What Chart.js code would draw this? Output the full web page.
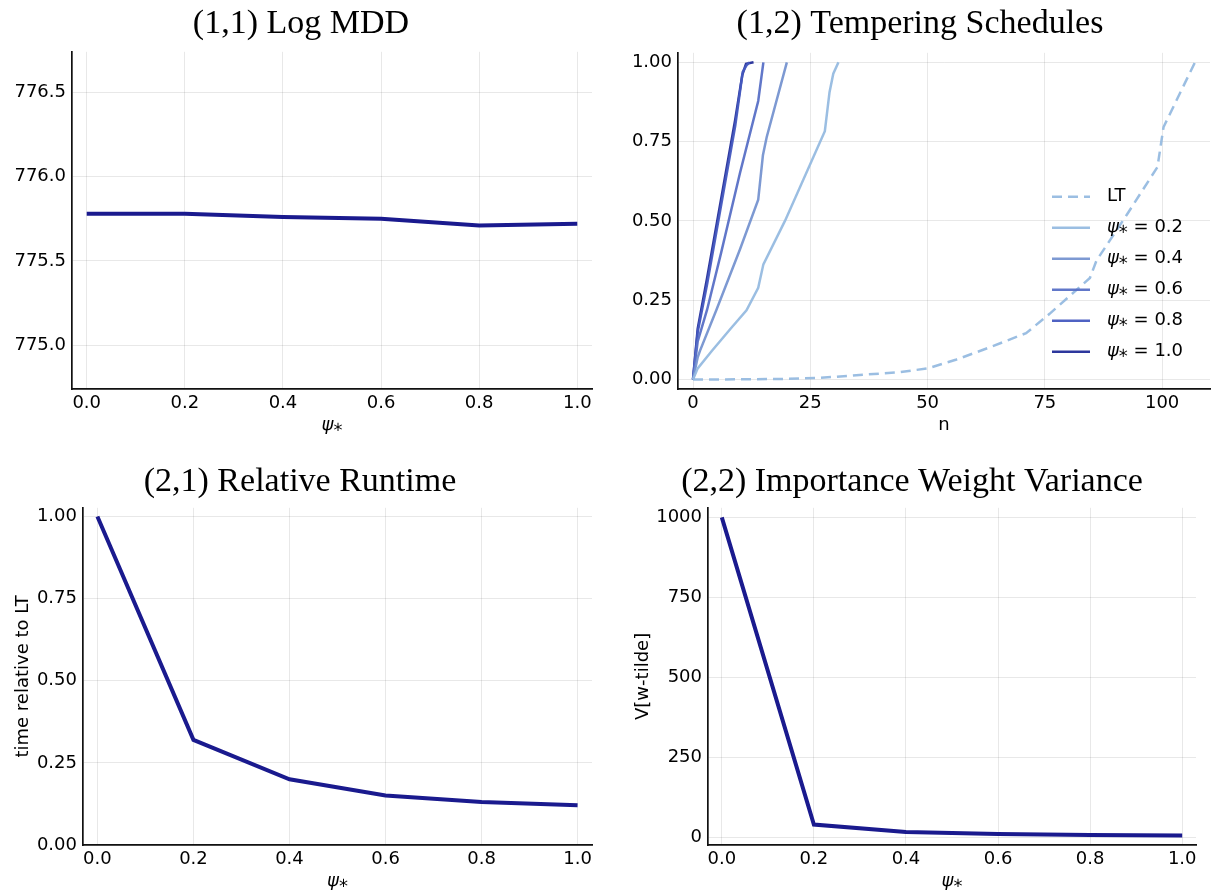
<!DOCTYPE html>
<html>
<head>
<meta charset="utf-8">
<script src="https://cdn.jsdelivr.net/npm/chart.js@4.4.0/dist/chart.umd.min.js"></script>
<style>
  body { margin: 0; background: #fff; width: 1216px; height: 895px; position: relative; overflow: hidden; }
  canvas { position: absolute; }
</style>
</head>
<body>
<canvas id="c11" width="598" height="439" style="left:10px;top:0px"></canvas>
<canvas id="c12" width="586" height="439" style="left:630px;top:0px"></canvas>
<canvas id="c21" width="600" height="448" style="left:8px;top:447px"></canvas>
<canvas id="c22" width="588" height="448" style="left:628px;top:447px"></canvas>
<script>
// values
var psi = [0.0, 0.2, 0.4, 0.6, 0.8, 1.0];
var logMdd = [775.78, 775.78, 775.76, 775.75, 775.71, 775.72];
var runtime = [1.0, 0.32, 0.20, 0.151, 0.131, 0.121];
var wVariance = [1000, 40, 17, 10, 7, 6];

// tempering schedules (n, phi_n)
var ltN    = [0, 10, 20, 27, 33.5, 44, 50, 56, 63, 71, 76, 84.6, 86, 92.5, 99, 100.3, 107];
var ltPhi  = [0, 0.0005, 0.002, 0.005, 0.012, 0.023, 0.035, 0.062, 0.1, 0.146, 0.207, 0.32, 0.375, 0.52, 0.67, 0.796, 1.0];
var s02N   = [0, 1, 4, 8, 11.4, 13.9, 15, 19.6, 28.1, 29.1, 29.9, 31];
var s02Phi = [0, 0.035, 0.09, 0.16, 0.218, 0.289, 0.363, 0.5, 0.783, 0.906, 0.964, 1.0];
var s04N   = [0, 1, 1.5, 5, 10, 13.9, 14.9, 15.7, 20];
var s04Phi = [0, 0.07, 0.091, 0.22, 0.41, 0.567, 0.707, 0.764, 1.0];
var s06N   = [0, 1, 3, 6, 10, 13.9, 15];
var s06Phi = [0, 0.12, 0.22, 0.4, 0.65, 0.878, 1.0];
var s08N   = [0, 1, 3, 6, 9, 10.6, 11.4, 12];
var s08Phi = [0, 0.15, 0.3, 0.55, 0.8, 0.97, 0.99, 1.0];
var s10N   = [0, 1, 3, 6, 9, 10.5, 11.3, 12.9];
var s10Phi = [0, 0.16, 0.32, 0.57, 0.82, 0.96, 0.995, 1.0];

var schedLabels = ['LT', 'ψ⁎ = 0.2', 'ψ⁎ = 0.4', 'ψ⁎ = 0.6', 'ψ⁎ = 0.8', 'ψ⁎ = 1.0'];

// tick labels
var psiTicks = [0, 0.2, 0.4, 0.6, 0.8, 1.0];
var mddTicks = [775.0, 775.5, 776.0, 776.5];
var nTicks = [0, 25, 50, 75, 100];
var phiTicks = [0, 0.25, 0.5, 0.75, 1.0];
var runtimeTicks = [0, 0.25, 0.5, 0.75, 1.0];
var varTicks = [0, 250, 500, 750, 1000];

var navy = '#1a1a8e';
var gridColor = 'rgba(0,0,0,0.09)';
var tickFont = { family: 'DejaVu Sans', size: 18 };

function pts(xs, ys) {
  return xs.map(function(x, i) { return { x: x, y: ys[i] }; });
}

function fixTicks(values) {
  return function(scale) {
    scale.ticks = values.map(function(v) { return { value: v }; });
  };
}

function xAxis(min, max, ticks, digits, title, italic) {
  return {
    type: 'linear', min: min, max: max,
    afterBuildTicks: fixTicks(ticks),
    afterFit: function(s) { s.height = 50; },
    grid: { color: gridColor, drawTicks: false, lineWidth: 1 },
    border: { color: '#111', width: 1.7 },
    ticks: { font: tickFont, color: '#000', padding: 4, maxRotation: 0, autoSkip: false,
      callback: function(v) { return v.toFixed(digits); } },
    title: { display: true, text: title, color: '#000',
      font: { family: 'DejaVu Sans', size: 18, style: italic ? 'italic' : 'normal' },
      padding: { top: 0, bottom: 3 } }
  };
}

function yAxis(min, max, ticks, digits, width, title) {
  return {
    type: 'linear', min: min, max: max,
    afterBuildTicks: fixTicks(ticks),
    afterFit: function(s) { s.width = width; },
    grid: { color: gridColor, drawTicks: false, lineWidth: 1 },
    border: { color: '#111', width: 1.7 },
    ticks: { font: tickFont, color: '#000', padding: 6, autoSkip: false,
      callback: function(v) { return v.toFixed(digits); } },
    title: { display: !!title, text: title || '', color: '#000',
      font: { family: 'DejaVu Sans', size: 18 },
      padding: { top: 5, bottom: 0 } }
  };
}

function titleOpt(text, padTop, padBottom) {
  return {
    display: true, text: text, color: '#000',
    font: { family: 'Liberation Serif', size: 34, weight: 'normal', lineHeight: 1.2 },
    padding: { top: padTop, bottom: padBottom }
  };
}

// legend drawn inside the plot area, like the original
var insideLegend = {
  id: 'insideLegend',
  afterDatasetsDraw: function(chart) {
    var ctx = chart.ctx, a = chart.chartArea;
    var x0 = a.right - 158, y0 = a.top + 144;
    chart.data.datasets.forEach(function(ds, i) {
      var y = y0 + i * 31;
      ctx.save();
      ctx.strokeStyle = ds.borderColor;
      ctx.lineWidth = ds.borderWidth;
      ctx.setLineDash(ds.borderDash || []);
      ctx.beginPath();
      ctx.moveTo(x0, y);
      ctx.lineTo(x0 + 38, y);
      ctx.stroke();
      ctx.setLineDash([]);
      ctx.fillStyle = '#000';
      ctx.textBaseline = 'middle';
      var tx = x0 + 55;
      var label = ds.label;
      if (label.charAt(0) === 'ψ') {
        ctx.font = 'italic 18px DejaVu Sans';
        ctx.fillText(label.slice(0, 2), tx, y);
        tx += ctx.measureText(label.slice(0, 2)).width;
        ctx.font = '18px DejaVu Sans';
        ctx.fillText(label.slice(2), tx, y);
      } else {
        ctx.font = '18px DejaVu Sans';
        ctx.fillText(label, tx, y);
      }
      ctx.restore();
    });
  }
};

function lineDs(label, data, color, width, dash) {
  return { label: label, data: data, borderColor: color, borderWidth: width,
    borderDash: dash || [], pointRadius: 0, tension: 0, fill: false };
}

function baseOptions(title, x, y, padRight) {
  return {
    responsive: false, animation: false, devicePixelRatio: 1,
    layout: { padding: { left: 0, right: padRight, top: 0, bottom: 0 } },
    plugins: { legend: { display: false }, tooltip: { enabled: false }, title: title },
    scales: { x: x, y: y }
  };
}

// (1,1) Log MDD
new Chart(document.getElementById('c11'), {
  type: 'line',
  data: { datasets: [lineDs('Log MDD', pts(psi, logMdd), navy, 4)] },
  options: baseOptions(titleOpt('(1,1) Log MDD', 4, 7),
    xAxis(-0.03, 1.03, psiTicks, 1, 'ψ⁎', true),
    yAxis(774.74, 776.74, mddTicks, 1, 62), 16)
});

// (1,2) Tempering Schedules
new Chart(document.getElementById('c12'), {
  type: 'line',
  data: { datasets: [
    lineDs(schedLabels[0], pts(ltN, ltPhi), 'rgba(150,186,224,0.95)', 2.5, [10, 6]),
    lineDs(schedLabels[1], pts(s02N, s02Phi), 'rgba(150,186,224,0.95)', 2.5),
    lineDs(schedLabels[2], pts(s04N, s04Phi), 'rgba(118,148,208,0.95)', 2.5),
    lineDs(schedLabels[3], pts(s06N, s06Phi), 'rgba(88,112,198,0.95)', 2.5),
    lineDs(schedLabels[4], pts(s08N, s08Phi), 'rgba(70,90,192,0.95)', 2.5),
    lineDs(schedLabels[5], pts(s10N, s10Phi), 'rgba(34,44,152,0.95)', 2.5)
  ] },
  options: baseOptions(titleOpt('(1,2) Tempering Schedules', 4, 8),
    xAxis(-3.2, 110.2, nTicks, 0, 'n', false),
    yAxis(-0.03, 1.03, phiTicks, 2, 48), 6),
  plugins: [insideLegend]
});

// (2,1) Relative Runtime
new Chart(document.getElementById('c21'), {
  type: 'line',
  data: { datasets: [lineDs('runtime', pts(psi, runtime), navy, 4)] },
  options: baseOptions(titleOpt('(2,1) Relative Runtime', 15, 5),
    xAxis(-0.03, 1.03, psiTicks, 1, 'ψ⁎', true),
    yAxis(0, 1.0264, runtimeTicks, 2, 75, 'time relative to LT'), 16)
});

// (2,2) Importance Weight Variance
new Chart(document.getElementById('c22'), {
  type: 'line',
  data: { datasets: [lineDs('variance', pts(psi, wVariance), navy, 4)] },
  options: baseOptions(titleOpt('(2,2) Importance Weight Variance', 15, 5),
    xAxis(-0.03, 1.03, psiTicks, 1, 'ψ⁎', true),
    yAxis(-24, 1030, varTicks, 0, 80, 'V[w-tilde]'), 20)
});
</script>
</body>
</html>
